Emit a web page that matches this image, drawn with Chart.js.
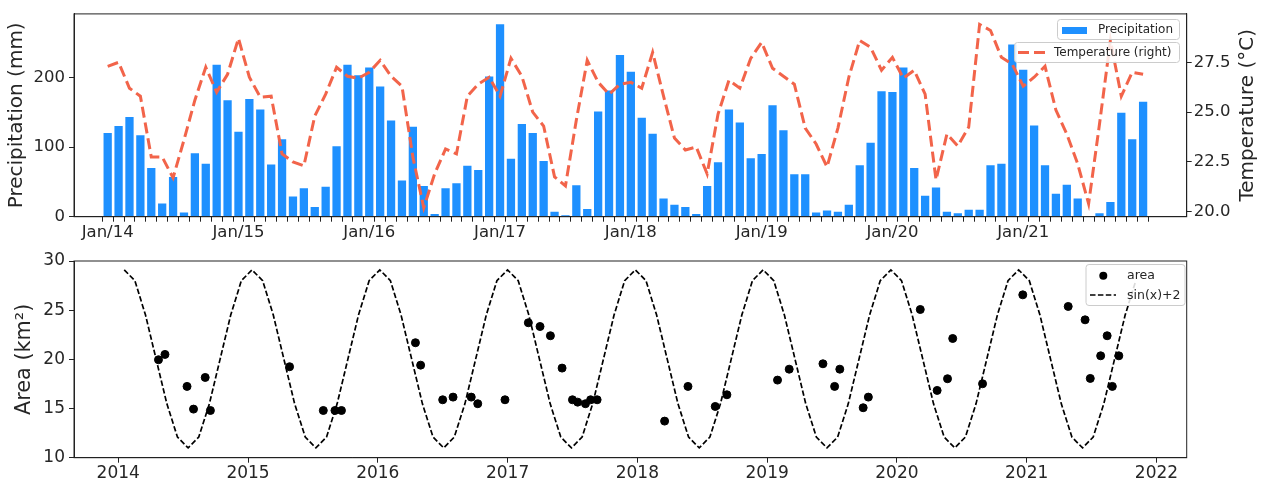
<!DOCTYPE html>
<html>
<head>
<meta charset="utf-8">
<title>Precipitation, temperature and area</title>
<script src="https://cdn.jsdelivr.net/npm/chart.js@4.4.1/dist/chart.umd.min.js"></script>
<style>
    body { margin: 0; background: #fff; }
    #wrap { position: relative; width: 1263px; height: 484px; }
    canvas { position: absolute; left: 0; }
    #topChart { top: 0; }
    #areaChart { top: 245px; }
</style>
</head>
<body>
<div id="wrap">
    <canvas id="topChart" width="1263" height="245"></canvas>
    <canvas id="areaChart" width="1263" height="239"></canvas>
</div>
<script>
/* =========================
   DATA
========================= */

// one label every 12 months (Jan/14 ... Jan/21)
const tickLabels = ["Jan/14", "Jan/15", "Jan/16", "Jan/17", "Jan/18", "Jan/19", "Jan/20", "Jan/21"];

// monthly precipitation (mm), Jan 2014 - Dec 2021
const precipitation = [
    120, 130, 143, 117, 70, 19, 57, 6, 91, 76, 218, 167,
    122, 169, 154, 75, 111, 29, 41, 14, 43, 101, 218, 203,
    214, 187, 138, 52, 129, 44, 4, 41, 48, 73, 67, 201,
    276, 83, 133, 120, 80, 7, 2, 45, 11, 151, 181, 232,
    208, 142, 119, 26, 17, 14, 4, 44, 78, 154, 135, 84,
    90, 160, 124, 61, 61, 6, 9, 7, 17, 74, 106, 180,
    179, 214, 70, 30, 42, 7, 5, 10, 10, 74, 76, 247,
    211, 131, 74, 33, 46, 26, 0, 5, 21, 149, 111, 165
];

// monthly temperature (°C), right axis
const temperature = [
    27.3, 27.5, 26.2, 25.8, 22.75, 22.75, 21.7, 23.6, 25.6, 27.25, 26.0, 26.9,
    28.7, 26.75, 25.75, 25.8, 22.9, 22.5, 22.3, 24.8, 25.9, 27.25, 26.8, 26.7,
    27.0, 27.6, 26.8, 26.3, 22.75, 20.2, 21.9, 23.15, 22.9, 25.8, 26.4, 26.75,
    25.8, 27.7, 26.8, 25.0, 24.3, 21.75, 21.3, 24.6, 27.6, 26.5, 25.9, 26.4,
    26.5, 26.2, 28.0, 25.8, 23.7, 23.1, 23.25, 21.9, 24.9, 26.6, 26.2, 27.7,
    28.5, 27.2, 26.8, 26.4, 24.2, 23.4, 22.25, 24.2, 26.75, 28.6, 28.25, 27.1,
    27.75, 26.7, 27.1, 25.9, 21.6, 23.9, 23.3, 24.25, 29.4, 29.1, 27.75, 27.4,
    26.3, 26.75, 27.3, 25.1, 23.9, 22.4, 20.4, 24.4, 28.6, 25.8, 27.0, 26.9
];

const precipTicks = [0, 100, 200];
const tempTicks = [20.0, 22.5, 25.0, 27.5];

// area observations (decimal year, km²)
const areaDates = [
    2014.31, 2014.36, 2014.53, 2014.58, 2014.67, 2014.71,
    2015.32, 2015.58, 2015.67, 2015.72,
    2016.29, 2016.33, 2016.50, 2016.58, 2016.72, 2016.77, 2016.98,
    2017.16, 2017.25, 2017.33, 2017.42, 2017.50, 2017.54, 2017.60, 2017.64, 2017.69,
    2018.21, 2018.39, 2018.60, 2018.69,
    2019.08, 2019.17, 2019.43, 2019.52, 2019.56, 2019.74, 2019.78,
    2020.18, 2020.31, 2020.39, 2020.43, 2020.66, 2020.97,
    2021.32, 2021.45, 2021.49, 2021.57, 2021.62, 2021.66, 2021.71
];
const areaValues = [
    19.96, 20.5, 17.25, 14.94, 18.16, 14.8,
    19.25, 14.8, 14.8, 14.8,
    21.69, 19.41, 15.89, 16.16, 16.16, 15.49, 15.89,
    23.72, 23.34, 22.4, 19.11, 15.89, 15.65, 15.49, 15.89, 15.89,
    13.72, 17.25, 15.21, 16.4,
    17.89, 19.0, 19.55, 17.25, 19.0, 15.08, 16.16,
    25.07, 16.84, 18.03, 22.12, 17.52, 26.56,
    25.38, 24.02, 18.06, 20.36, 22.4, 17.25, 20.36
];

// dashed "sin(x)+2" reference curve, sampled every ~30 days
const curveStart = 2014.046;
const curveStep = 0.08205;
const curveValues = [
    29.1, 28.0, 24.5, 20.0, 15.5, 12.1, 11.0, 12.1, 15.5, 20.0, 24.5, 28.0,
    29.1, 28.0, 24.5, 20.0, 15.5, 12.1, 11.0, 12.1, 15.5, 20.0, 24.5, 28.0,
    29.1, 28.0, 24.5, 20.0, 15.5, 12.1, 11.0, 12.1, 15.5, 20.0, 24.5, 28.0,
    29.1, 28.0, 24.5, 20.0, 15.5, 12.1, 11.0, 12.1, 15.5, 20.0, 24.5, 28.0,
    29.1, 28.0, 24.5, 20.0, 15.5, 12.1, 11.0, 12.1, 15.5, 20.0, 24.5, 28.0,
    29.1, 28.0, 24.5, 20.0, 15.5, 12.1, 11.0, 12.1, 15.5, 20.0, 24.5, 28.0,
    29.1, 28.0, 24.5, 20.0, 15.5, 12.1, 11.0, 12.1, 15.5, 20.0, 24.5, 28.0,
    29.1, 28.0, 24.5, 20.0, 15.5, 12.1, 11.0, 12.1, 15.5, 20.0, 24.5, 28.0
];

const yearTicks = [2014, 2015, 2016, 2017, 2018, 2019, 2020, 2021, 2022];

/* =========================
   STYLE
========================= */

const BLUE = "#1e90ff";
const TEMP_RED = "#f2644a";
const TEXT = "#262626";

Chart.defaults.font.family = "'DejaVu Sans', sans-serif";
Chart.defaults.color = TEXT;
Chart.defaults.animation = false;

// box around the plot area, like matplotlib spines
const framePlugin = {
    id: "frame",
    afterDraw(chart){
        const { ctx, chartArea: a } = chart;
        ctx.save();
        ctx.strokeStyle = "#222";
        ctx.lineWidth = 1;
        ctx.strokeRect(a.left, a.top, a.right - a.left, a.bottom - a.top);
        ctx.restore();
    }
};

function legendBox(ctx, x, y, w, h){
    ctx.beginPath();
    ctx.roundRect(x, y, w, h, 3);
    ctx.fillStyle = "rgba(255,255,255,0.85)";
    ctx.fill();
    ctx.strokeStyle = "#cccccc";
    ctx.lineWidth = 1;
    ctx.stroke();
}

/* =========================
   TOP: PRECIPITATION + TEMPERATURE
========================= */

const topLegend = {
    id: "topLegend",
    afterDraw(chart){
        const ctx = chart.ctx;
        const a = chart.chartArea;
        ctx.save();

        // right axis title reads bottom-to-top, as in matplotlib
        ctx.save();
        ctx.translate(1248, (a.top + a.bottom) / 2);
        ctx.rotate(-Math.PI / 2);
        ctx.font = "20px 'DejaVu Sans'";
        ctx.fillStyle = TEXT;
        ctx.textAlign = "center";
        ctx.textBaseline = "middle";
        ctx.fillText("Temperature (°C)", 0, 0);
        ctx.restore();

        ctx.font = "12px 'DejaVu Sans'";
        ctx.textBaseline = "middle";

        legendBox(ctx, 1057.5, 19.5, 122, 20);
        ctx.fillStyle = BLUE;
        ctx.fillRect(1062, 27, 25, 7);
        ctx.fillStyle = TEXT;
        ctx.fillText("Precipitation", 1098, 30);

        legendBox(ctx, 1014.5, 42.5, 165, 20);
        ctx.strokeStyle = TEMP_RED;
        ctx.lineWidth = 3;
        ctx.setLineDash([11, 5]);
        ctx.beginPath();
        ctx.moveTo(1018, 52.5);
        ctx.lineTo(1046, 52.5);
        ctx.stroke();
        ctx.setLineDash([]);
        ctx.fillStyle = TEXT;
        ctx.fillText("Temperature (right)", 1054, 53);

        ctx.restore();
    }
};

new Chart(document.getElementById("topChart"), {

    type: "bar",

    data: {
        datasets: [
            {
                type: "line",
                label: "Temperature (right)",
                data: temperature.map((v, i) => ({ x: i, y: v })),
                yAxisID: "y1",
                borderColor: TEMP_RED,
                borderWidth: 3,
                borderDash: [11, 5],
                pointRadius: 0,
                tension: 0,
                order: 0
            },
            {
                type: "bar",
                label: "Precipitation",
                data: precipitation.map((v, i) => ({ x: i, y: v })),
                yAxisID: "y",
                backgroundColor: BLUE,
                barPercentage: 0.76,
                categoryPercentage: 1,
                order: 1
            }
        ]
    },

    options: {
        responsive: false,
        devicePixelRatio: 1,
        layout: { padding: { top: 13, left: 0, right: 0, bottom: 0 } },
        plugins: {
            legend: { display: false },
            tooltip: { enabled: false }
        },
        scales: {
            x: {
                type: "linear",
                offset: false,
                min: -3.09,
                max: 99,
                afterBuildTicks: s => { s.ticks = precipitation.map((v, i) => ({ value: i })); },
                afterFit: s => { s.height = 28.3; },
                grid: { drawOnChartArea: false, tickLength: 5, color: "#222" },
                border: { color: "#222" },
                ticks: {
                    autoSkip: false,
                    maxRotation: 0,
                    minRotation: 0,
                    padding: 1,
                    font: { size: 16.5 },
                    callback: v => (v % 12 === 0 ? tickLabels[v / 12] : "")
                }
            },
            y: {
                position: "left",
                min: 0,
                max: 291,
                afterBuildTicks: s => { s.ticks = precipTicks.map(v => ({ value: v })); },
                afterFit: s => { s.width = 74; },
                grid: { drawOnChartArea: false, tickLength: 5, color: "#222" },
                border: { color: "#222" },
                ticks: { padding: 4, font: { size: 16.5 } },
                title: {
                    display: true,
                    text: "Precipitation (mm)",
                    font: { size: 20 },
                    padding: { top: 4.5, bottom: 0 }
                }
            },
            y1: {
                position: "right",
                min: 19.75,
                max: 29.93,
                afterBuildTicks: s => { s.ticks = tempTicks.map(v => ({ value: v })); },
                afterFit: s => { s.width = 76.3; },
                grid: { drawOnChartArea: false, tickLength: 5, color: "#222" },
                border: { color: "#222" },
                ticks: {
                    padding: 2,
                    font: { size: 16.5 },
                    callback: v => v.toFixed(1)
                }
            }
        }
    },

    plugins: [framePlugin, topLegend]

});

/* =========================
   BOTTOM: AREA
========================= */

const areaLegend = {
    id: "areaLegend",
    afterDraw(chart){
        const ctx = chart.ctx;
        ctx.save();
        ctx.font = "12.5px 'DejaVu Sans'";
        ctx.textBaseline = "middle";

        legendBox(ctx, 1086, 19.5, 99, 41);

        ctx.fillStyle = "#000";
        ctx.beginPath();
        ctx.arc(1103.3, 30.7, 4, 0, Math.PI * 2);
        ctx.fill();

        ctx.strokeStyle = "#000";
        ctx.lineWidth = 1.7;
        ctx.setLineDash([5.5, 2.4]);
        ctx.beginPath();
        ctx.moveTo(1090, 50);
        ctx.lineTo(1116, 50);
        ctx.stroke();
        ctx.setLineDash([]);

        ctx.fillStyle = TEXT;
        ctx.fillText("area", 1127, 31);
        ctx.fillText("sin(x)+2", 1127, 50.5);
        ctx.restore();
    }
};

new Chart(document.getElementById("areaChart"), {

    type: "scatter",

    data: {
        datasets: [
            {
                label: "area",
                data: areaDates.map((d, i) => ({ x: d, y: areaValues[i] })),
                backgroundColor: "#000",
                borderColor: "#000",
                pointRadius: 4,
                pointHoverRadius: 4,
                order: 0
            },
            {
                type: "line",
                label: "sin(x)+2",
                data: curveValues.map((v, i) => ({ x: curveStart + i * curveStep, y: v })),
                borderColor: "#000",
                borderWidth: 1.7,
                borderDash: [5.5, 2.4],
                pointRadius: 0,
                tension: 0,
                fill: false,
                order: 1
            }
        ]
    },

    options: {
        responsive: false,
        devicePixelRatio: 1,
        layout: { padding: { top: 16, left: 0, right: 76.3, bottom: 0 } },
        plugins: {
            legend: { display: false },
            tooltip: { enabled: false }
        },
        scales: {
            x: {
                type: "linear",
                min: 2013.659,
                max: 2022.233,
                afterBuildTicks: s => { s.ticks = yearTicks.map(v => ({ value: v })); },
                afterFit: s => { s.height = 26.3; },
                grid: { drawOnChartArea: false, tickLength: 5, color: "#222" },
                border: { color: "#222" },
                ticks: {
                    maxRotation: 0,
                    padding: 1,
                    font: { size: 17 },
                    callback: v => String(v)
                }
            },
            y: {
                min: 10,
                max: 30,
                afterBuildTicks: s => { s.ticks = [10, 15, 20, 25, 30].map(v => ({ value: v })); },
                afterFit: s => { s.width = 74; },
                grid: { drawOnChartArea: false, tickLength: 5, color: "#222" },
                border: { color: "#222" },
                ticks: { padding: 4, font: { size: 17 } },
                title: {
                    display: true,
                    text: "Area (km²)",
                    font: { size: 20.8 },
                    padding: { top: 12.5, bottom: 0 }
                }
            }
        }
    },

    plugins: [framePlugin, areaLegend]

});
</script>
</body>
</html>
